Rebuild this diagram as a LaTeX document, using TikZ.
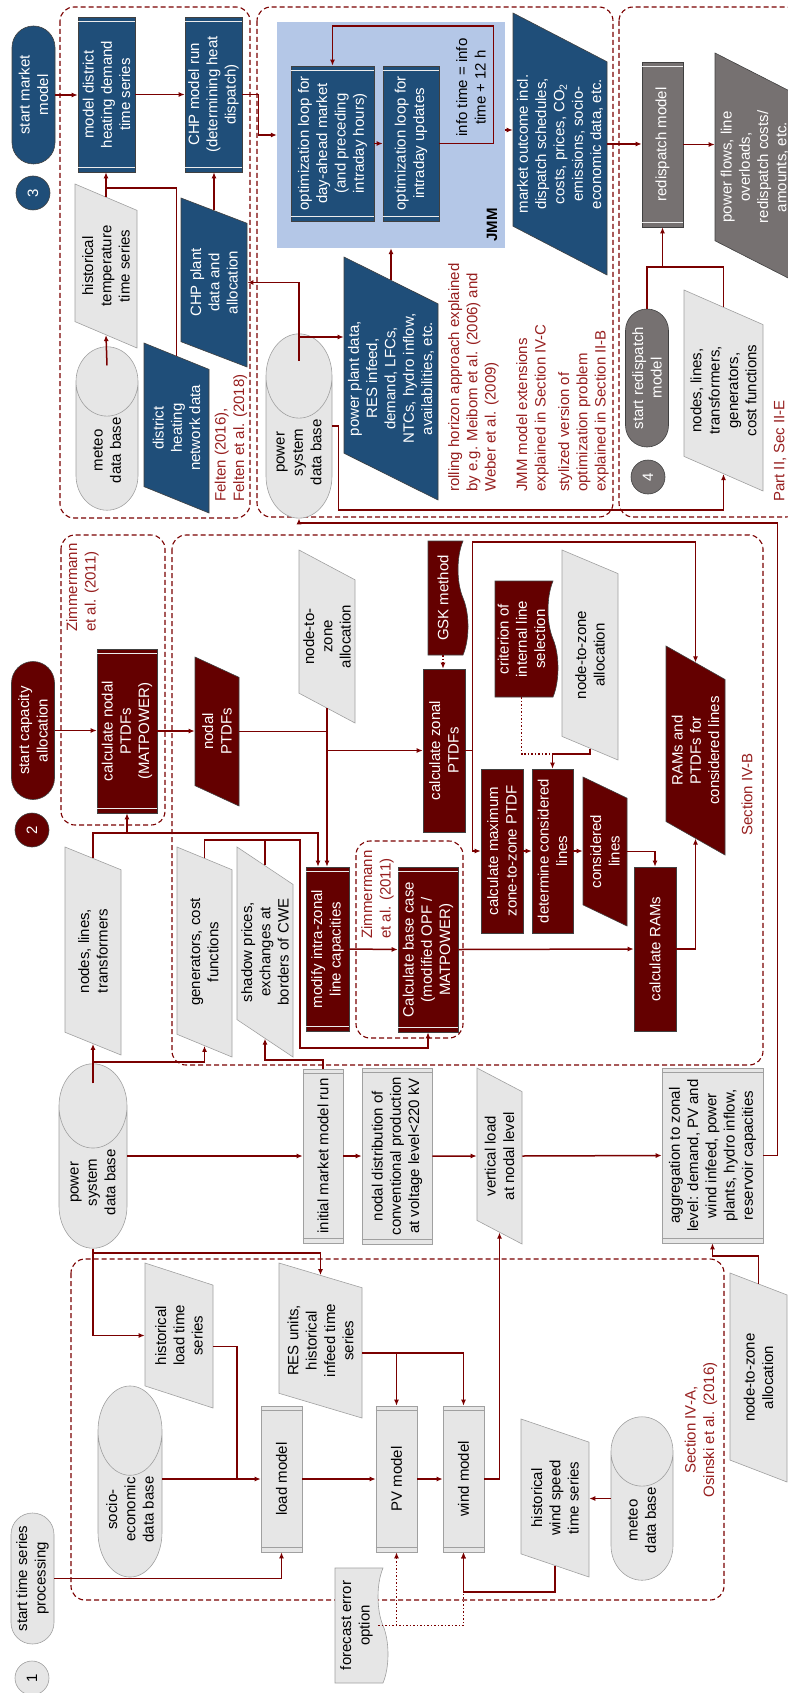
\documentclass[tikz,border=0pt]{standalone}
\usepackage{fontspec}
\setmainfont{Liberation Sans}
\usetikzlibrary{arrows.meta,calc,shapes.geometric,shapes.misc,shapes.symbols}
\definecolor{jmmblue}{HTML}{B4C7E7}
\definecolor{mblue}{HTML}{1F4E79}
\definecolor{mred}{HTML}{640000}
\definecolor{linered}{RGB}{122,0,0}
\definecolor{notered}{RGB}{150,30,30}
\definecolor{boxgray}{HTML}{E6E6E6}
\definecolor{edgegray}{HTML}{A0A0A0}
\definecolor{rdgray}{HTML}{767171}
\tikzset{
    every node/.append style = {
        rotate=90,
        font=\fontsize{15}{18.3}\selectfont,
        align=center,
        inner sep=1pt,
        },
    link/.style = {
        draw=linered,
        line width=1.5pt,
        },
    arr/.style = {
        link,
        -{Latex[length=6pt,width=5pt]},
        },
    grpbox/.style = {
        draw=linered,
        line width=1.1pt,
        dash pattern=on 5pt off 3pt,
        rounded corners=14pt,
        },
    proc/.style = {
        draw=black!75,
        line width=0.6pt,
        },
    blu/.style = {
        fill=mblue,
        text=white,
        },
    rd/.style = {
        fill=mred,
        text=white,
        },
    dgr/.style = {
        fill=rdgray,
        text=white,
        },
    lgt/.style = {
        draw=edgegray,
        fill=boxgray,
        },
    dims/.style 2 args = {
        minimum width=#1pt,
        minimum height=#2pt,
        },
    terminal/.style = {
        rounded rectangle,
        proc,
        minimum width=140pt,
        minimum height=43pt,
        },
    numcirc/.style = {
        circle,
        proc,
        minimum size=34pt,
        },
    databox/.style = {
        trapezium,
        trapezium stretches body,
        trapezium left angle=#1,
        trapezium right angle=180-#1,
        proc,
        },
    dbase/.style = {
        cylinder,
        shape border rotate=0,
        aspect=#1,
        draw=edgegray,
        fill=boxgray,
        line width=0.6pt,
        anchor=shape center,
        },
    dbase/.default=1.8,
    doc/.style = {
        tape,
        tape bend top=none,
        tape bend bottom=in and out,
        tape bend height=10pt,
        proc,
        },
    refnote/.style = {
        text=notered,
        align=left,
        anchor=west,
        },
}

\begin{document}
\begin{tikzpicture}[x=1pt, y=-1pt]
    \useasboundingbox (0,0) rectangle (787,1693);

    \draw[grpbox] (60,7) rectangle (250,518);
    \draw[grpbox] (257,7) rectangle (613,517);
    \draw[grpbox] (619,7) rectangle (800,517);
    \draw[grpbox] (61,535) rectangle (165,825);
    \draw[grpbox] (172,535) rectangle (763,1065);
    \draw[grpbox] (356,841) rectangle (463,1038);
    \draw[grpbox] (71,1259) rectangle (724,1600);

    % market model
    \node[terminal, blu] (startMM) at (33.5,95) {start market\\model};
    \node[numcirc, blu] (n3) at (33,193) {3};
    \node[proc, blu, dims={155}{57}] (mdh) at (106.5,94.5) {model district\\heating demand\\time series};
    \node[proc, blu, dims={155}{57}] (chprun) at (213.5,94.5) {CHP model run\\(determining heat\\dispatch)};
    \node[databox=62, lgt, dims={164}{62}] (histtemp) at (106,266) {historical\\temperature\\time series};
    \node[dbase=2.3, dims={62}{163}] (meteoA) at (107,428.5) {meteo\\data base};
    \node[databox=62, blu, dims={170}{65}] (dhnet) at (176.5,428) {district\\heating\\network data};
    \node[databox=63, blu, dims={169}{66}] (chpdata) at (214,282.5) {CHP plant\\data and\\allocation};
    \node[refnote] (felten) at (231,503) {Felten (2016),\\Felten et al. (2018)};

    \node[fill=jmmblue, dims={226}{228}] (jmm) at (391,135) {};
    \node[proc, blu, dims={155}{83}] (optda) at (332.5,143.5) {optimization loop for\\day-ahead market\\(and preceding\\intraday hours)};
    \node[proc, blu, dims={155}{56}] (optid) at (411,143.5) {optimization loop for\\intraday updates};
    \node (info) at (471,87.5) {info time = info\\time + 12 h};
    \node[font=\fontsize{15}{18.3}\selectfont\bfseries] (jmmlabel) at (492,225) {JMM};
    \node[databox=61, blu, dims={262}{94}] (mout) at (560,144) {market outcome incl.\\dispatch schedules,\\costs, prices, CO\textsubscript{2}\\emissions, socio-\\economic data, etc.};
    \node[databox=62, blu, dims={243}{94}] (ppdata) at (391,378.5) {power plant data,\\RES infeed,\\demand, LFCs,\\NTCs, hydro inflow,\\availabilities, etc.};
    \node[dbase, dims={66}{162}] (psdbA) at (299,426) {power\\system\\data base};
    \node[refnote] (rolling) at (473.5,493) {rolling horizon approach explained\\by e.g. Meibom et al. (2006) and\\Weber et al. (2009)};
    \node[refnote] (jmmext) at (532.5,493) {JMM model extensions\\explained in Section IV-C};
    \node[refnote] (stylized) at (583.5,493) {stylized version of\\optimization problem\\explained in Section II-B};

    % redispatch
    \node[proc, dgr, dims={165}{41}] (rdm) at (662.5,144.5) {redispatch model};
    \node[databox=60, dgr, dims={228}{79}] (pflows) at (754.5,167) {power flows, line\\overloads,\\redispatch costs/\\amounts, etc.};
    \node[terminal, dgr] (startRD) at (647,378) {start redispatch\\model};
    \node[numcirc, dgr] (n4) at (648,477) {4};
    \node[databox=63, lgt, dims={201}{79}] (rdnodes) at (723.5,390.5) {nodes, lines,\\transformers,\\generators,\\cost functions};
    \node[refnote] (part2) at (780,503) {Part II, Sec II-E};

    % capacity allocation
    \node[terminal, rd] (startCA) at (33,730.5) {start capacity\\allocation};
    \node[numcirc, rd] (n2) at (32,830) {2};
    \node[refnote] (zimA) at (82.5,633) {Zimmermann\\et al. (2011)};
    \node[proc, rd, dims={164}{60}] (calcnodal) at (127,731) {calculate nodal\\PTDFs\\(MATPOWER)};
    \node[databox=57, rd, dims={149}{44}] (nodalptdf) at (217,731.5) {nodal\\PTDFs};
    \node[databox=59, lgt, dims={173}{56}] (ntzA) at (327,636.5) {node-to-\\zone\\allocation};
    \node[doc, rd, dims={114}{40}] (gsk) at (443,598) {GSK method};
    \node[proc, rd, dims={163}{42}] (calczonal) at (444,750.5) {calculate zonal\\PTDFs};
    \node[doc, rd, dims={116}{63}] (crit) at (521.5,639) {criterion of\\internal line\\selection};
    \node[databox=53, lgt, dims={210}{56}] (ntzB) at (590,655) {node-to-zone\\allocation};
    \node[databox=56, rd, dims={209}{59}] (ramsptdf) at (695.5,750.5) {RAMs and\\PTDFs for\\considered lines};
    \node[proc, rd, dims={164}{42}] (calcmax) at (502,851) {calculate maximum\\zone-to-zone PTDF};
    \node[proc, rd, dims={164}{41}] (detcons) at (552.5,851) {determine considered\\lines};
    \node[databox=56, rd, dims={149}{44}] (conslines) at (605,851.5) {considered\\lines};
    \node[proc, rd, dims={164}{42}] (calcrams) at (655,949) {calculate RAMs};
    \node[proc, rd, dims={165}{60}] (basecase) at (428,949.5) {Calculate base case\\(modified OPF /\\MATPOWER)};
    \node[proc, rd, dims={164}{43}] (modcap) at (327.5,949) {modify intra-zonal\\line capacities};
    \node[refnote] (zimB) at (377.5,940) {Zimmermann\\et al. (2011)};
    \node[databox=54, lgt, dims={208}{56}] (nlt) at (93,951) {nodes, lines,\\transformers};
    \node[databox=53, lgt, dims={210}{55}] (gens) at (204.5,952) {generators, cost\\functions};
    \node[databox=53, lgt, dims={210}{56}] (shadow) at (265,952) {shadow prices,\\exchanges at\\borders of CWE};
    \node[refnote] (secB) at (747,837) {Section IV-B};

    % nodal to zonal
    \node[dbase, dims={68}{162}] (psdbB) at (93,1156) {power\\system\\data base};
    \node[proc, lgt, dims={174}{40}] (initmm) at (323,1156) {initial market model run};
    \node[proc, lgt, dims={176}{70}] (nodaldist) at (397,1156) {nodal distribution of\\conventional production\\at voltage level<220 kV};
    \node[databox=53, lgt, dims={176}{45}] (vertload) at (499.5,1156) {vertical load\\at nodal level};
    \node[proc, lgt, dims={175}{101}] (aggr) at (712.5,1155.5) {aggregation to zonal\\level: demand, PV and\\wind infeed, power\\plants, hydro inflow,\\reservoir capacities};

    % time series
    \node[terminal, lgt, dims={133}{43}] (startTS) at (32.5,1578.5) {start time series\\processing};
    \node[numcirc, lgt] (n1) at (32,1678) {1};
    \node[databox=66, lgt, dims={145}{68}] (histload) at (179,1335.5) {historical\\load time\\series};
    \node[databox=70, lgt, dims={155}{83}] (resunits) at (320.5,1340.5) {RES units,\\historical\\infeed time\\series};
    \node[dbase, dims={64}{159}] (socio) at (130,1481.5) {socio-\\economic\\data base};
    \node[proc, lgt, dims={146}{41}] (loadm) at (281.5,1479) {load model};
    \node[proc, lgt, dims={146}{41}] (pvm) at (396.5,1479) {PV model};
    \node[proc, lgt, dims={146}{41}] (windm) at (463.5,1479) {wind model};
    \node[databox=65, lgt, dims={158}{68}] (histwind) at (555,1498) {historical\\wind speed\\time series};
    \node[dbase=2.3, dims={62}{163}] (meteoB) at (642,1498.5) {meteo\\data base};
    \node[databox=55, lgt, dims={209}{57}] (ntzC) at (758.5,1377.5) {node-to-zone\\allocation};
    \node[doc, lgt, dims={115}{53}] (forecast) at (356.5,1625.5) {forecast error\\option};
    \node[refnote, anchor=center, align=center] (secA) at (701,1430) {Section IV-A,\\Osinski et al. (2016)};

    \foreach \n in {mdh, chprun, optda, optid, calcnodal, modcap, basecase, rdm}
        \draw[white!85!gray, line width=0.8pt] ($(\n.north east)+(0,5)$) -- ($(\n.south east)+(0,5)$)
            ($(\n.north west)+(0,-5)$) -- ($(\n.south west)+(0,-5)$);
    \foreach \n in {initmm, nodaldist, aggr, loadm, pvm, windm}
        \draw[edgegray, line width=0.8pt] ($(\n.north east)+(0,5)$) -- ($(\n.south east)+(0,5)$)
            ($(\n.north west)+(0,-5)$) -- ($(\n.south west)+(0,-5)$);

    \draw[arr] (startMM.south) -- (startMM.south -| mdh.north);
    \draw[arr] (mdh.south) -- (mdh.south -| chprun.north);
    \draw[arr] (chprun.south) -- ++(16,0) |- (jmm.north);
    \draw[arr] (histtemp.east) -- (histtemp.east |- mdh.west);
    \draw[link] (dhnet.east) |- (histtemp.east |- 0,188);
    \draw[arr] ($(meteoA.top)+(0,19)$) -- (histtemp.west);
    \draw[arr] ($(psdbA.top)+(0,27)$) |- (chpdata.south);
    \draw[arr] (psdbA.top |- 0,337) -- (ppdata.north |- 0,337);
    \draw[arr] (chpdata.east) -- (chpdata.east |- chprun.west);
    \draw[arr] (optda.south) -- (optid.north);
    \draw[arr] (optid.south) -- ++(54,0) |- (optda.east |- 0,26) -- (optda.east);
    \draw[arr] (ppdata.east) -- (ppdata.east |- jmm.west);
    \draw[arr] (jmm.south |- 0,130) -- (mout.north |- 0,130);
    \draw[arr] (mout.south) -- (mout.south -| rdm.north);
    \draw[arr] (rdm.south) -- (rdm.south -| pflows.north);
    \draw[link] (startRD.east) |- (rdnodes.east |- 0,267) -- (rdnodes.east);
    \draw[arr] (rdm.west |- 0,267) -- (rdm.west);
    \draw[arr] (psdbA.south |- psdbA.shape center) -- ++(6,0) |- (rdnodes.west |- 0,510) -- (rdnodes.west);
    \draw[arr] (aggr.south) -- ++(14,0) |- (psdbA.bottom |- 0,523) -- (psdbA.bottom);

    \draw[arr] (startCA.south) -- (startCA.south -| calcnodal.north);
    \draw[arr] (calcnodal.south) -- (calcnodal.south -| nodalptdf.north);
    \draw[link] (nodalptdf.south) -- (nodalptdf.south -| ntzA.west);
    \draw[arr] (ntzA.west) -- (ntzA.west |- modcap.east);
    \draw[arr] (ntzA.west |- calczonal.north) -- (calczonal.north);
    \draw[arr] (nlt.east) |- (318,833) -- (318,0 |- modcap.east);
    \draw[arr] (calcnodal.west |- 0,833) -- (calcnodal.west);
    \draw[link] (shadow.east) -- (shadow.east |- 0,840);
    \draw[arr] (gens.east) |- (300,840) -- (300,1048) -| (basecase.west);
    \draw[arr] ($(psdbB.top)+(0,20)$) -- (nlt.west);
    \draw[arr] (psdbB.top |- 0,1062) -| (gens.west);
    \draw[arr] (initmm.east) |- (shadow.west |- 0,1060) -- (shadow.west);
    \draw[arr] (modcap.south) -- (basecase.north);
    \draw[arr] (basecase.south) -- (calcrams.north);
    \draw[arr] (calczonal.south) -- ++(7,0) |- (ramsptdf.east |- 0,542) -- (ramsptdf.east);
    \draw[arr] ($(calczonal.south)+(7,0)$) |- (calcmax.north);
    \draw[arr, dotted] (gsk.west) -- (gsk.west |- calczonal.east);
    \draw[arr] (calcmax.south) -- (detcons.north);
    \draw[arr] (detcons.south) -- (detcons.south -| conslines.north);
    \draw[arr] (conslines.south) -| (calcrams.east);
    \draw[link, dotted] (crit.west) |- (detcons.east |- 0,754);
    \draw[arr] (ntzB.west) |- (detcons.east |- 0,754) -- (detcons.east);
    \draw[arr] (calcrams.south) -| (ramsptdf.west);

    \draw[arr] (psdbB.south |- psdbB.shape center) -- (initmm.north);
    \draw[arr] (initmm.south) -- (nodaldist.north);
    \draw[arr] (nodaldist.south) -- (vertload.north);
    \draw[arr] (vertload.south) -- (aggr.north);
    \draw[arr] (ntzC.east) |- (aggr.west |- 0,1256) -- (aggr.west);

    \draw[arr] (psdbB.bottom) |- (histload.north);
    \draw[arr] (psdbB.bottom |- 0,1253) -| (resunits.east);
    \draw[link] (histload.bottom side) -| (loadm.north -| 237,0);
    \draw[arr] (socio.south |- loadm.north) -- (loadm.north);
    \draw[arr] (startTS.south) -| (loadm.west);
    \draw[arr] (loadm.south) -- (pvm.north);
    \draw[arr] (pvm.south) -- (windm.north);
    \draw[arr] (resunits.bottom side) -| (windm.east);
    \draw[arr] (pvm.east |- resunits.bottom side) -- (pvm.east);
    \draw[arr] (windm.south) -| (vertload.west);
    \draw[arr] (meteoB.north |- meteoB.shape center) -- (histwind.bottom side |- meteoB.shape center);
    \draw[arr] (histwind.west) |- (windm.west |- 0,1592) -- (windm.west);
    \draw[arr, dotted] (forecast.south) -| (windm.west);
    \draw[arr, dotted] (pvm.west |- forecast.south) -- (pvm.west);
\end{tikzpicture}
\end{document}
